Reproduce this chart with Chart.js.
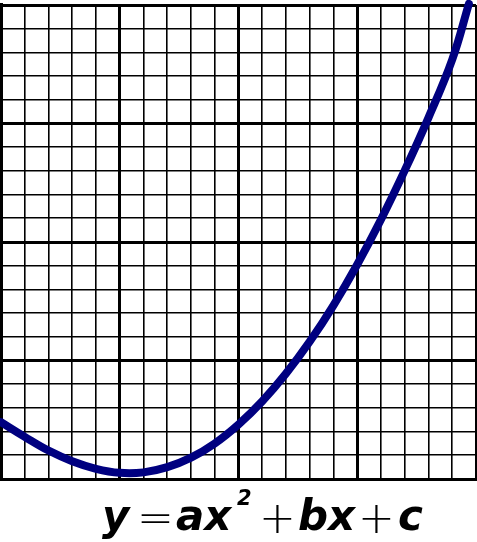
<!DOCTYPE html>
<html>
<head>
<meta charset="utf-8">
<script src="https://cdn.jsdelivr.net/npm/chart.js@4/dist/chart.umd.min.js"></script>
<style>
  html, body { margin: 0; padding: 0; background: #fff; }
  #wrap { position: relative; width: 477px; height: 542px; }
</style>
</head>
<body>
<div id="wrap"><canvas id="graph"></canvas></div>
<script>
/* --------------- Data (grid units) --------------- */
const xValues = [0, 1, 2, 3, 4, 5, 6, 7, 8, 9, 10, 11, 12, 13, 14, 15, 16, 17, 18, 19, 19.7];
const yValues = [2.4, 1.78, 1.2, 0.75, 0.43, 0.26, 0.28, 0.5, 0.9, 1.5, 2.3, 3.28, 4.45, 5.8, 7.33, 9.05, 10.95, 13.02, 15.25, 17.7, 20.05];
const gridMin = 0;
const gridMax = 20;
const majorEvery = 5;
// formula pieces, with the left edge each one starts at
const formula = [
  { text: "y", kind: "var", at: 102 },
  { text: "=", kind: "op", at: 137 },
  { text: "ax", kind: "var", at: 176 },
  { text: "2", kind: "sup", at: 237 },
  { text: "+", kind: "op", at: 259 },
  { text: "bx", kind: "var", at: 298 },
  { text: "+", kind: "op", at: 358 },
  { text: "c", kind: "var", at: 398 },
];
const fonts = {
  var: 'italic bold 42px "DejaVu Sans"',
  sup: 'italic bold 21px "DejaVu Sans"',
  op: '200 44px "DejaVu Sans"',
};
const lift = { var: 0, sup: 25, op: -3 };

const points = xValues.map((x, i) => ({ x: x, y: yValues[i] }));

/* --------------- Formula under the grid --------------- */
const formulaPlugin = {
  id: "formula",
  afterDraw(chart) {
    const ctx = chart.ctx;
    const base = chart.chartArea.bottom + 51;
    ctx.save();
    ctx.fillStyle = "#000";
    ctx.textBaseline = "alphabetic";
    for (const part of formula) {
      ctx.font = fonts[part.kind];
      ctx.fillText(part.text, part.at, base - lift[part.kind]);
    }
    ctx.restore();
  },
};

const gridOpts = {
  color: "#000",
  lineWidth: (c) => (c.tick && c.tick.value % majorEvery === 0 ? 3 : 1.6),
  drawTicks: false,
};

new Chart(document.getElementById("graph"), {
  type: "line",
  plugins: [formulaPlugin],
  data: {
    datasets: [
      {
        data: points,
        borderColor: "#000080",
        borderWidth: 8,
        borderCapStyle: "round",
        borderJoinStyle: "round",
        pointRadius: 0,
        tension: 0.4,
        clip: false,
      },
    ],
  },
  options: {
    responsive: true,
    maintainAspectRatio: false,
    animation: false,
    layout: { padding: { left: 1, right: 1, top: 5, bottom: 63 } },
    plugins: { legend: { display: false }, tooltip: { enabled: false } },
    scales: {
      x: {
        type: "linear",
        min: gridMin,
        max: gridMax,
        ticks: { display: false, stepSize: 1 },
        grid: gridOpts,
        border: { display: true, color: "#000", width: 3 },
      },
      y: {
        min: gridMin,
        max: gridMax,
        ticks: { display: false, stepSize: 1 },
        grid: gridOpts,
        border: { display: true, color: "#000", width: 4 },
      },
    },
  },
});
</script>
</body>
</html>
